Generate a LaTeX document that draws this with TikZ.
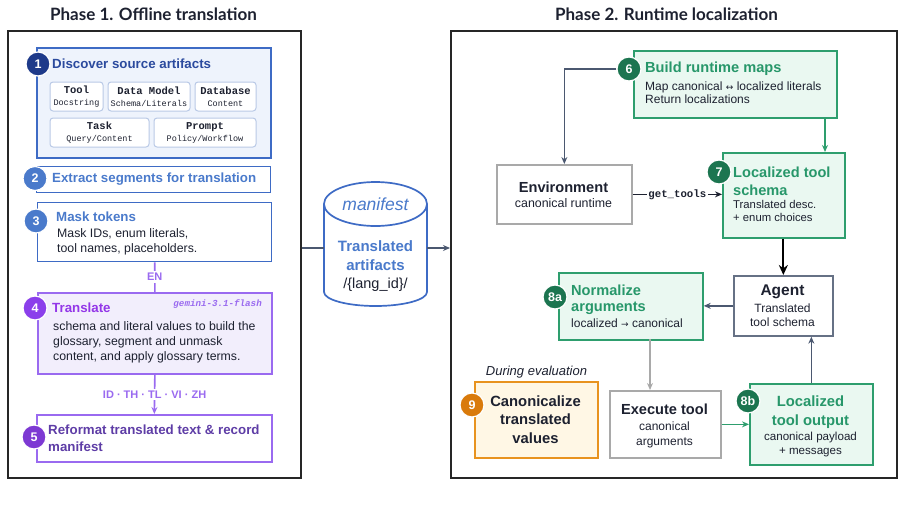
\documentclass[tikz,border=0pt]{standalone}
\usepackage{fontspec}
\setmainfont{Liberation Sans}
\setmonofont{Liberation Mono}
\newfontfamily\headfont{Lato}
\newfontfamily\symbfont{DejaVu Sans}
\usetikzlibrary{arrows.meta}

\definecolor{inkdark}{HTML}{1D2130}
\definecolor{navy}{HTML}{1E3A8A}
\definecolor{blueline}{HTML}{3E6BC5}
\definecolor{bluetext}{HTML}{2B4A9E}
\definecolor{bluelight}{HTML}{4A7ACB}
\definecolor{bluefill}{HTML}{EEF3FC}
\definecolor{subline}{HTML}{B9C9E6}
\definecolor{purpleline}{HTML}{9A6AF0}
\definecolor{purplebadge}{HTML}{8B3FEB}
\definecolor{purpletext}{HTML}{9336E8}
\definecolor{purplefill}{HTML}{F2EEFC}
\definecolor{purpledark}{HTML}{5E3DA6}
\definecolor{greenline}{HTML}{2E9E6E}
\definecolor{greentext}{HTML}{27976A}
\definecolor{greenbadge}{HTML}{1C7550}
\definecolor{greenfill}{HTML}{EAF8F1}
\definecolor{slate}{HTML}{4B5870}
\definecolor{greyline}{HTML}{A9A9A9}
\definecolor{orangeline}{HTML}{E8931F}
\definecolor{orangebadge}{HTML}{D97A0B}
\definecolor{orangefill}{HTML}{FFF7E5}

\begin{document}
\begin{tikzpicture}[x=1pt, y=-1pt,
    box/.style={draw, anchor=north west, inner sep=0pt, line width=1.5pt},
    badge/.style={circle, fill=#1, draw=white, line width=1.2pt, text=white, inner sep=0pt,
        minimum size=24pt, font=\bfseries\fontsize{12.5}{12.5}\selectfont},
    chip/.style={draw=subline, fill=white, rounded corners=3pt, line width=1pt, align=center,
        inner sep=0pt, font=\ttfamily\fontsize{8.5}{12}\selectfont, text=inkdark},
    head/.style={font=\bfseries\fontsize{13.3}{17}\selectfont, inner sep=0pt},
    bighead/.style={font=\bfseries\fontsize{14.6}{18}\selectfont, inner sep=0pt, text=inkdark},
    body/.style={font=\fontsize{12}{14}\selectfont, inner sep=0pt, text=inkdark},
    arr/.style={-{Stealth[length=7pt,width=6pt]}, line width=1.6pt},
]
    % Fix the page to the reference size
    \useasboundingbox (0,0) rectangle (903,509);

    % Phase titles and frames
    \node[font=\headfont\bfseries\fontsize{17}{20}\selectfont, text=inkdark] (titleA) at (153.5,14) {Phase 1. Offline translation};
    \node[font=\headfont\bfseries\fontsize{17}{20}\selectfont, text=inkdark] (titleB) at (666.5,14) {Phase 2. Runtime localization};
    \node[box, draw=black!85, line width=1.5pt, minimum width=293pt, minimum height=447pt] (phaseA) at (7,30) {};
    \node[box, draw=black!85, line width=1.5pt, minimum width=446pt, minimum height=447pt] (phaseB) at (450,30) {};

    % Step 1: discover artifacts
    \node[box, draw=blueline, fill=bluefill, line width=2pt, minimum width=234pt, minimum height=110pt] (discover) at (36,47) {};
    \node[badge=navy] (b1) at (38,64) {1};
    \node[head, text=bluetext, anchor=west] (discoverT) at (52,64) {Discover source artifacts};
    \node[chip, minimum width=53pt, minimum height=29pt] (tool) at (76.5,96.5) {{\bfseries\fontsize{10.5}{12}\selectfont Tool}\\Docstring};
    \node[chip, minimum width=82pt, minimum height=29pt] (datamodel) at (149,96.5) {{\bfseries\fontsize{10.5}{12}\selectfont Data Model}\\Schema/Literals};
    \node[chip, minimum width=61pt, minimum height=29pt] (database) at (225.5,96.5) {{\bfseries\fontsize{10.5}{12}\selectfont Database}\\Content};
    \node[chip, minimum width=99pt, minimum height=29pt] (task) at (99.5,132.5) {{\bfseries\fontsize{10.5}{12}\selectfont Task}\\Query/Content};
    \node[chip, minimum width=102pt, minimum height=29pt] (prompt) at (205,132.5) {{\bfseries\fontsize{10.5}{12}\selectfont Prompt}\\Policy/Workflow};

    % Step 2: extract segments
    \node[box, draw=blueline, line width=1.4pt, minimum width=234pt, minimum height=26pt] (extract) at (36,166) {};
    \node[badge=bluelight] (b2) at (35,178.5) {2};
    \node[head, text=bluelight, anchor=west] (extractT) at (52,179) {Extract segments for translation};

    % Step 3: mask tokens
    \node[box, draw=blueline, line width=1.4pt, minimum width=234pt, minimum height=59pt] (mask) at (37,202) {};
    \node[badge=bluelight] (b3) at (36,221) {3};
    \node[head, text=bluelight, anchor=west] (maskT) at (56,217) {Mask tokens};
    \node[body, anchor=north west, align=left, font=\fontsize{12.3}{15}\selectfont] (maskB) at (57,228.5) {Mask IDs, enum literals,\\tool names, placeholders.};

    % Step 4: translate
    \node[box, draw=purpleline, fill=purplefill, line width=1.7pt, minimum width=234pt, minimum height=81pt] (translate) at (37,292) {};
    \node[badge=purplebadge] (b4) at (35,308) {4};
    \node[head, text=purpletext, anchor=west] (translateT) at (52,308) {Translate};
    \node[anchor=east, inner sep=0pt, text=purpleline, font=\ttfamily\bfseries\itshape\fontsize{9.2}{11}\selectfont] (model) at (262,304) {gemini-3.1-flash};
    \node[body, anchor=north west, align=left, font=\fontsize{12.3}{15}\selectfont] (translateB) at (53,321.5) {schema and literal values to build the\\glossary, segment and unmask\\content, and apply glossary terms.};

    % Step 5: reformat
    \node[box, draw=purpleline, line width=1.7pt, minimum width=235pt, minimum height=47pt] (reformat) at (36,414) {};
    \node[badge=purplebadge!90!black] (b5) at (34,437) {5};
    \node[head, text=purpledark, anchor=north west, align=left] (reformatT) at (48,425) {Reformat translated text \& record\\manifest};

    % Phase 1 links with language labels
    \draw[purpleline, line width=1.6pt] (mask.south) -- node[fill=white, inner sep=2pt, text=purpleline, font=\bfseries\fontsize{11}{12}\selectfont] {EN} (translate.north);
    \draw[purpleline, arr] (translate.south) -- node[fill=white, inner sep=2pt, text=purpleline, font=\bfseries\fontsize{11}{12}\selectfont] {ID · TH · TL · VI · ZH} (reformat.north);

    % Manifest store (cylinder)
    \draw[blueline, line width=1.7pt, fill=white] (324,204) -- (324,292) arc[start angle=180, end angle=0, x radius=51.5, y radius=14] -- (427,204);
    \draw[blueline, line width=1.7pt, fill=white] (375.5,204) ellipse [x radius=51.5, y radius=22];
    \node[inner sep=0pt, text=bluelight, font=\itshape\fontsize{17.5}{20}\selectfont] (manifestT) at (375.5,204) {manifest};
    \node[inner sep=0pt, text=bluelight, font=\bfseries\fontsize{15}{19}\selectfont, align=center, anchor=north] (manifestB) at (375.5,240.5) {Translated\\artifacts};
    \node[body, font=\fontsize{14.5}{16}\selectfont] (langid) at (375.5,285) {/\{lang\_id\}/};
    \coordinate (cylL) at (324,248);
    \coordinate (cylR) at (427,248);
    \draw[slate, line width=1.6pt] (phaseA.east |- cylL) -- (cylL);
    \draw[slate, arr] (cylR) -- (cylR -| phaseB.west);

    % Step 6: runtime maps
    \node[box, draw=greenline, fill=greenfill, line width=1.7pt, minimum width=203pt, minimum height=67pt] (maps) at (633,50) {};
    \node[badge=greenbadge] (b6) at (629,69) {6};
    \node[bighead, text=greentext, anchor=west] (mapsT) at (645,69) {Build runtime maps};
    \node[body, anchor=north west, align=left, font=\fontsize{12}{13.5}\selectfont] (mapsB) at (645,81.6) {Map canonical {\symbfont\fontsize{9}{10}\selectfont ↔} localized literals\\Return localizations};

    % Environment
    \node[box, draw=greyline, line width=1.7pt, minimum width=135pt, minimum height=59pt] (env) at (496,164) {};
    \node[bighead] (envT) at (563.5,187) {Environment};
    \node[body, font=\fontsize{12.4}{14}\selectfont] (envB) at (563.5,203.5) {canonical runtime};

    % Step 7: localized schema
    \node[box, draw=greenline, fill=greenfill, line width=1.7pt, minimum width=122pt, minimum height=85pt] (schema) at (722,152) {};
    \node[badge=greenbadge] (b7) at (719,172) {7};
    \node[bighead, text=greentext, anchor=north west, align=left] (schemaT) at (733,166.6) {Localized tool\\schema};
    \node[body, anchor=north west, align=left, font=\fontsize{11.3}{13}\selectfont] (schemaB) at (733,200.6) {Translated desc.\\+ enum choices};

    % Agent
    \node[box, draw=slate!85, line width=1.7pt, minimum width=99pt, minimum height=60pt] (agent) at (733,275) {};
    \node[bighead, font=\bfseries\fontsize{15.5}{18}\selectfont] (agentT) at (782.5,292) {Agent};
    \node[body, align=center, anchor=north] (agentB) at (782.5,303.6) {Translated\\tool schema};

    % Step 8a: normalize arguments
    \node[box, draw=greenline, fill=greenfill, line width=1.7pt, minimum width=144pt, minimum height=67pt] (norm) at (558,272) {};
    \node[badge=greenbadge] (b8a) at (555,297) {8a};
    \node[bighead, text=greentext, anchor=north west, align=left, font=\bfseries\fontsize{14.6}{16}\selectfont] (normT) at (571,284.6) {Normalize\\arguments};
    \node[body, anchor=west] (normB) at (571,323) {localized {\symbfont\fontsize{9}{10}\selectfont →} canonical};

    % Execute tool
    \node[box, draw=greyline, line width=1.7pt, minimum width=111pt, minimum height=67pt] (exec) at (609,390) {};
    \node[bighead] (execT) at (664.5,409) {Execute tool};
    \node[body, align=center, anchor=north, font=\fontsize{12}{15}\selectfont] (execB) at (664.5,421.6) {canonical\\arguments};

    % Step 8b: localized output
    \node[box, draw=greenline, fill=greenfill, line width=1.7pt, minimum width=123pt, minimum height=81pt] (output) at (749,383) {};
    \node[badge=greenbadge] (b8b) at (748,401) {8b};
    \node[bighead, text=greentext, align=center, anchor=north, font=\bfseries\fontsize{14.8}{19}\selectfont] (outputT) at (810.5,395.6) {Localized\\tool output};
    \node[body, align=center, anchor=north, font=\fontsize{11.6}{14}\selectfont] (outputB) at (810.5,431.6) {canonical payload\\+ messages};

    % Step 9: evaluation only
    \node[inner sep=0pt, text=inkdark, font=\itshape\fontsize{13}{15}\selectfont] (evalnote) at (536.5,372) {During evaluation};
    \node[box, draw=orangeline, fill=orangefill, line width=1.7pt, minimum width=123pt, minimum height=76pt] (canon) at (474,381) {};
    \node[badge=orangebadge] (b9) at (472,405) {9};
    \node[bighead, align=center, anchor=north, font=\bfseries\fontsize{14.8}{18.5}\selectfont] (canonT) at (535.5,395.5) {Canonicalize\\translated\\values};

    % Phase 2 connectors
    \coordinate (mapsOut) at (825,117);
    \coordinate (normOut) at (650,339);
    \draw[slate, arr] (b6.west) -| (env.north);
    \draw[greenline, arr] (mapsOut) -- (mapsOut |- schema.north);
    \draw[inkdark, arr] (env.east) -- node[fill=white, inner sep=1.5pt, font=\ttfamily\bfseries\fontsize{10.7}{12}\selectfont] {get\_tools} (env.east -| schema.west);
    \draw[black, line width=2.2pt, -{Stealth[length=10pt,width=9pt]}] (schema.south -| agent.north) -- (agent.north);
    \draw[slate, arr] (agent.west) -- (agent.west -| norm.east);
    \draw[greyline, arr] (normOut) -- (normOut |- exec.north);
    \draw[greenline, arr] (exec.east) -- (exec.east -| output.west);
    \draw[slate, arr] (output.north) -- (output.north |- agent.south);
\end{tikzpicture}
\end{document}
